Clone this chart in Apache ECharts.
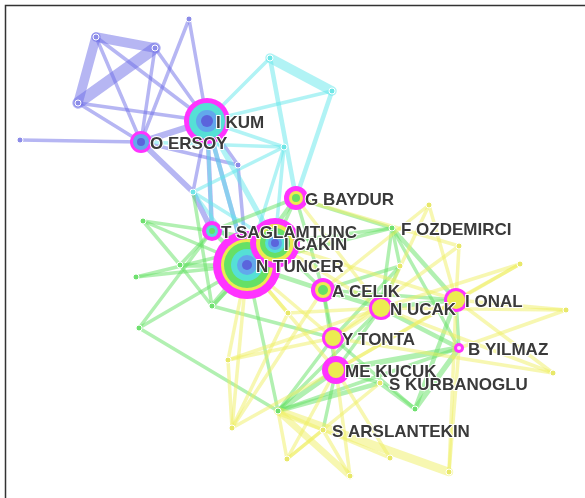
<!DOCTYPE html>
<html>
<head>
<meta charset="utf-8">
<script src="https://cdn.jsdelivr.net/npm/echarts@6/dist/echarts.min.js"></script>
<style>
  html, body { margin: 0; padding: 0; background: #fff; }
  #container { width: 585px; height: 498px; }
</style>
</head>
<body>
<div id="container"></div>
<script>
window.onload = function () {
    var dom = document.getElementById("container");
    var myChart = echarts.init(dom);

    // author nodes: name, layout position, cluster
    var nodeNames = ['I KUM', 'O ERSOY', 'G BAYDUR', 'T SAGLAMTUNC', 'I CAKIN', 'N TUNCER',
        'A CELIK', 'N UCAK', 'I ONAL', 'Y TONTA', 'B YILMAZ', 'ME KUCUK',
        'S KURBANOGLU', 'S ARSLANTEKIN', 'F OZDEMIRCI',
        'p1', 'p2', 'p3', 'p4', 'p5', 'p6', 't1', 'c1', 'c2', 'c3',
        'g1', 'g2', 'g3', 'g4', 'g5', 'g6', 'g7', 'g8',
        'y1', 'y2', 'y3', 'y4', 'y5', 'y6', 'y7', 'y8', 'y9', 'y10', 'y11', 'y12'];
    var nodeX = [207, 141, 296, 212, 275, 247,
        323, 381, 456, 333, 459, 336,
        380, 323, 392,
        96, 155, 78, 189, 20, 238, 193, 270, 332, 284,
        143, 180, 136, 212, 139, 278, 415, 400,
        288, 228, 232, 287, 350, 390, 449, 429, 459, 520, 566, 553];
    var nodeY = [121, 142, 198, 231, 243, 265,
        290, 308, 300, 338, 348, 370,
        383, 430, 228,
        37, 48, 103, 19, 140, 165, 192, 58, 91, 147,
        221, 265, 277, 306, 328, 411, 409, 266,
        313, 360, 428, 459, 476, 458, 472, 205, 246, 264, 310, 373];
    var nodeGroup = [0, 0, 2, 1, 2, 2,
        2, 3, 3, 3, 3, 3,
        3, 3, 2,
        0, 0, 0, 0, 0, 0, 1, 1, 1, 1,
        2, 2, 2, 2, 2, 2, 2, 3,
        3, 3, 3, 3, 3, 3, 3, 3, 3, 3, 3, 3];
    var labelled = nodeNames.slice(0, 15);

    // citation rings, outside in: [year slice, radius]
    var rings = {
        'N TUNCER': [[5, 34], [4, 26], [3, 23], [2, 16], [1, 10], [0, 5]],
        'I CAKIN': [[5, 25], [4, 19], [3, 15], [2, 10], [1, 7], [0, 4]],
        'I KUM': [[5, 23], [2, 18], [1, 11], [0, 6]],
        'O ERSOY': [[5, 11], [1, 8], [0, 4]],
        'G BAYDUR': [[5, 12], [4, 7], [3, 4]],
        'T SAGLAMTUNC': [[5, 10], [2, 6], [3, 3]],
        'A CELIK': [[5, 12], [4, 8], [3, 5]],
        'N UCAK': [[5, 12], [4, 9]],
        'I ONAL': [[5, 12], [4, 9]],
        'Y TONTA': [[5, 11], [4, 8]],
        'ME KUCUK': [[5, 14], [4, 8]],
        'B YILMAZ': [[5, 5], [6, 2]]
    };

    // co-authorship links: source, target, strength, cluster
    var linkSource = ['p1', 'p1', 'p2', 'p1', 'p1', 'p2', 'p2', 'p3', 'p3', 'p4', 'p4', 'p5',
        'O ERSOY', 'O ERSOY', 't1', 'I KUM', 'I KUM', 'I KUM', 'p6', 'I KUM', 'O ERSOY',
        'c1', 'c1', 'c1', 'c2', 'c2', 'c3', 'c3', 'c3', 'c3', 'I KUM', 'I KUM', 'I KUM',
        't1', 't1', 'O ERSOY',
        'g1', 'g1', 'g2', 'g2', 'g3', 'g3', 'g4', 'g4', 'g4', 'g5', 'g5', 't1',
        'G BAYDUR', 'G BAYDUR', 'G BAYDUR', 'G BAYDUR', 'G BAYDUR', 'T SAGLAMTUNC', 'T SAGLAMTUNC',
        'I CAKIN', 'N TUNCER', 'I CAKIN', 'I CAKIN', 'N TUNCER', 'F OZDEMIRCI', 'F OZDEMIRCI',
        'F OZDEMIRCI', 'F OZDEMIRCI', 'g8', 'g8', 'g8', 'A CELIK', 'A CELIK', 'A CELIK', 'A CELIK',
        'N UCAK', 'N UCAK', 'N UCAK', 'N UCAK', 'I ONAL', 'I ONAL', 'B YILMAZ', 'B YILMAZ',
        'B YILMAZ', 'ME KUCUK', 'ME KUCUK', 'S KURBANOGLU', 'g6', 'g6', 'Y TONTA',
        'S ARSLANTEKIN', 'g6', 'g4', 'g5', 'g2',
        'y1', 'y1', 'y2', 'y2', 'y2', 'y3', 'y3', 'y3', 'y4', 'y4', 'y4', 'y5', 'y5', 'y5',
        'y6', 'y6', 'y7', 'y7', 'y7', 'y8', 'y8', 'y8', 'y9', 'y9', 'y9', 'y10', 'y10', 'y10',
        'y11', 'y11', 'y11', 'y12', 'y12', 'y12', 'N UCAK', 'Y TONTA', 'I ONAL', 'ME KUCUK',
        'Y TONTA', 'G BAYDUR', 'I CAKIN', 'I CAKIN', 'y3', 'S ARSLANTEKIN', 'y1'];
    var linkTarget = ['p2', 'p3', 'p3', 'I KUM', 'O ERSOY', 'O ERSOY', 'I KUM', 'I KUM', 'O ERSOY', 'I KUM', 'O ERSOY', 'O ERSOY',
        'I KUM', 'p6', 'T SAGLAMTUNC', 'p6', 'T SAGLAMTUNC', 'N TUNCER', 'N TUNCER', 't1', 't1',
        'c2', 'I KUM', 'G BAYDUR', 'G BAYDUR', 'I KUM', 'I KUM', 't1', 'N TUNCER', 'I CAKIN', 'I CAKIN', 'N TUNCER', 'T SAGLAMTUNC',
        'N TUNCER', 'I CAKIN', 'c3',
        'N TUNCER', 'T SAGLAMTUNC', 'N TUNCER', 'T SAGLAMTUNC', 'N TUNCER', 'I CAKIN', 'N TUNCER', 'I CAKIN', 'g2', 'N TUNCER', 'T SAGLAMTUNC', 'g4',
        'N TUNCER', 'I CAKIN', 'F OZDEMIRCI', 'T SAGLAMTUNC', 'A CELIK', 'I CAKIN', 'N TUNCER',
        'N TUNCER', 'A CELIK', 'A CELIK', 'F OZDEMIRCI', 'F OZDEMIRCI', 'g8', 'I ONAL',
        'N UCAK', 'B YILMAZ', 'A CELIK', 'N UCAK', 'Y TONTA', 'N UCAK', 'ME KUCUK', 'Y TONTA', 'I ONAL',
        'I ONAL', 'B YILMAZ', 'ME KUCUK', 'g6', 'g7', 'B YILMAZ', 'g6', 'ME KUCUK',
        'g7', 'g6', 'S KURBANOGLU', 'g7', 'S KURBANOGLU', 'Y TONTA', 'g7',
        'ME KUCUK', 'N TUNCER', 'Y TONTA', 'g6', 'g1',
        'N TUNCER', 'N UCAK', 'N TUNCER', 'N UCAK', 'Y TONTA', 'A CELIK', 'ME KUCUK', 'N TUNCER', 'ME KUCUK', 'g6', 'S KURBANOGLU', 'g6', 'ME KUCUK', 'S ARSLANTEKIN',
        'ME KUCUK', 'g6', 'g6', 'B YILMAZ', 'I ONAL', 'N UCAK', 'A CELIK', 'I ONAL', 'I ONAL', 'Y TONTA', 'G BAYDUR', 'N UCAK', 'ME KUCUK', 'I ONAL',
        'I ONAL', 'B YILMAZ', 'N UCAK', 'I ONAL', 'N UCAK', 'Y TONTA', 'Y TONTA', 'ME KUCUK', 'ME KUCUK', 'N TUNCER',
        'N TUNCER', 'N UCAK', 'N UCAK', 'I ONAL', 'y2', 'y4', 'y3'];
    var linkWeight = [9, 9, 11, 3, 3, 3, 3, 3, 3, 3, 3, 3,
        6, 3, 5, 3, 4, 4, 3, 3, 5,
        9, 3, 4, 4, 3, 3, 3, 3, 3, 5, 4, 3,
        3, 3, 3,
        3, 3, 4, 3, 3, 3, 5, 3, 3, 3, 3, 3,
        4, 3, 3, 3, 3, 4, 4,
        6, 4, 3, 3, 3, 3, 4,
        3, 3, 3, 3, 3, 4, 3, 3, 3,
        4, 4, 3, 3, 4, 3, 3, 5,
        5, 5, 3, 4, 4, 3, 3,
        3, 3, 3, 3, 3,
        3, 3, 3, 3, 3, 3, 3, 3, 3, 3, 3, 6, 3, 3,
        3, 3, 8, 3, 3, 3, 3, 3, 3, 3, 3, 3, 3, 3,
        3, 3, 3, 3, 3, 3, 3, 3, 3, 3,
        3, 3, 3, 3, 3, 3, 3];
    var linkGroup = [0, 0, 0, 0, 0, 0, 0, 0, 0, 0, 0, 0,
        0, 0, 0, 0, 0, 0, 0, 0, 0,
        1, 1, 1, 1, 1, 1, 1, 1, 1, 1, 1, 1,
        1, 1, 1,
        2, 2, 2, 2, 2, 2, 2, 2, 2, 2, 2, 2,
        2, 2, 2, 2, 2, 2, 2,
        2, 2, 2, 2, 2, 2, 2,
        2, 2, 2, 2, 2, 2, 2, 2, 2,
        2, 2, 2, 2, 2, 2, 2, 2,
        2, 2, 2, 2, 2, 2, 2,
        2, 2, 2, 2, 2,
        3, 3, 3, 3, 3, 3, 3, 3, 3, 3, 3, 3, 3, 3,
        3, 3, 3, 3, 3, 3, 3, 3, 3, 3, 3, 3, 3, 3,
        3, 3, 3, 3, 3, 3, 3, 3, 3, 3,
        3, 3, 3, 3, 3, 3, 3];

    var linkColors = ['rgba(110,110,232,0.5)', 'rgba(100,232,236,0.5)', 'rgba(100,226,100,0.5)', 'rgba(240,240,100,0.5)'];
    var nodeColors = ['#8c8ce8', '#6fe6e6', '#6fe06f', '#e8e86a'];
    var yearColors = ['#5b64dc', '#62a8ec', '#55e0d6', '#66e066', '#ecec50', '#ff33ff', '#ffd6ff'];

    var graphData = nodeNames.map(function (n, i) {
        return {
            name: n,
            value: [nodeX[i], nodeY[i]],
            symbolSize: rings[n] ? 1 : 6,
            itemStyle: { color: nodeColors[nodeGroup[i]], borderColor: '#ffffff', borderWidth: 1, opacity: 1 }
        };
    });
    var graphLinks = linkSource.map(function (s, i) {
        return {
            source: s,
            target: linkTarget[i],
            lineStyle: { width: linkWeight[i] + 0.5, color: linkColors[linkGroup[i]], opacity: 1, cap: 'round' }
        };
    });

    // biggest nodes first so smaller ones sit on top
    var ringed = nodeNames.filter(function (n) { return rings[n]; });
    ringed.sort(function (a, b) { return rings[b][0][1] - rings[a][0][1]; });
    var ringData = [];
    ringed.forEach(function (n) {
        var i = nodeNames.indexOf(n);
        rings[n].forEach(function (r) {
            ringData.push({
                value: [nodeX[i], nodeY[i]],
                symbolSize: r[1] * 2,
                itemStyle: { color: yearColors[r[0]], opacity: 1 }
            });
        });
    });

    var labelData = labelled.map(function (n) {
        var i = nodeNames.indexOf(n);
        return { name: n, value: [nodeX[i], nodeY[i]] };
    });

    var option = {
        animation: false,
        grid: { left: 0, right: 0, top: 0, bottom: 0 },
        xAxis: { type: 'value', min: 0, max: 585, show: false },
        yAxis: { type: 'value', min: 0, max: 498, inverse: true, show: false },
        graphic: [{
            type: 'rect',
            shape: { x: 5.5, y: 5.5, width: 640, height: 560 },
            style: { fill: 'none', stroke: '#333333', lineWidth: 1.5 },
            z: 10
        }],
        series: [{
            type: 'graph',
            coordinateSystem: 'cartesian2d',
            layout: 'none',
            silent: true,
            data: graphData,
            links: graphLinks,
            lineStyle: { opacity: 1 },
            z: 1
        }, {
            type: 'scatter',
            silent: true,
            symbol: 'circle',
            data: ringData,
            itemStyle: { opacity: 1 },
            z: 3
        }, {
            type: 'scatter',
            silent: true,
            symbolSize: 0,
            data: labelData,
            itemStyle: { opacity: 1 },
            z: 4,
            label: {
                show: true,
                position: 'right',
                distance: 9,
                offset: [0, 2],
                formatter: '{b}',
                color: '#3a3a3a',
                opacity: 1,
                fontFamily: 'Liberation Sans, Arial, sans-serif',
                fontWeight: 'bold',
                fontSize: 17,
                textBorderColor: '#ffffff',
                textBorderWidth: 2
            }
        }]
    };
    myChart.setOption(option, true);
};
</script>
</body>
</html>
